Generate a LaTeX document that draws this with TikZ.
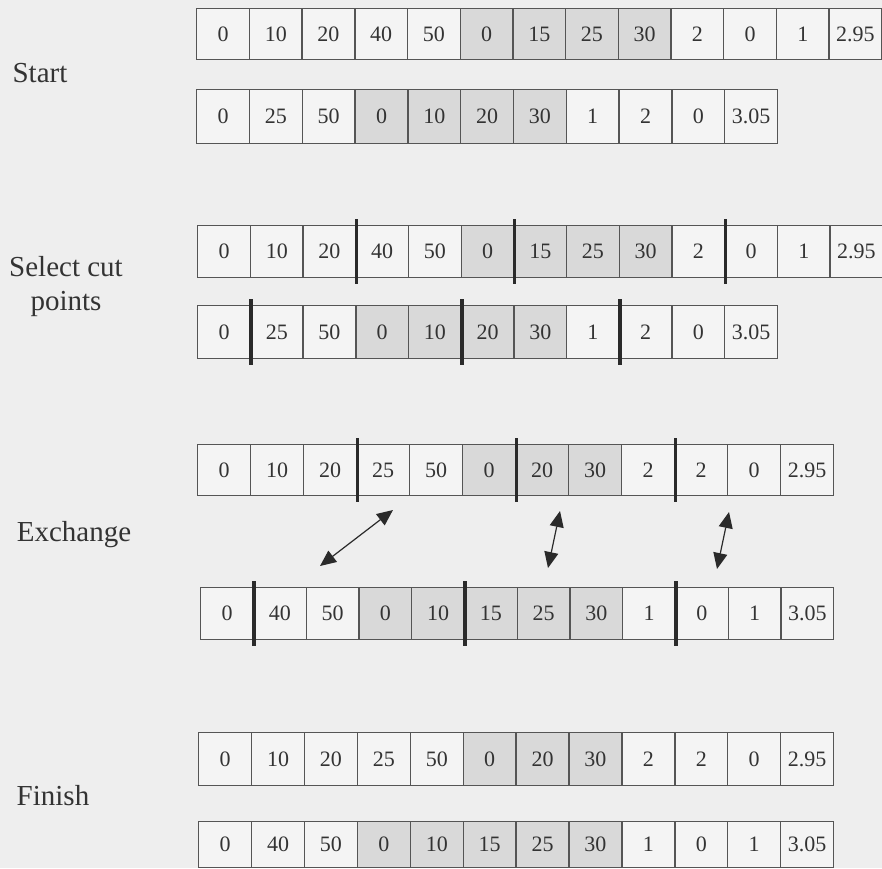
\documentclass[tikz,border=0pt]{standalone}
\usepackage{fontspec}
\setmainfont{Liberation Serif}
\usetikzlibrary{arrows.meta}
\definecolor{bgc}{HTML}{EEEEEE}
\definecolor{cw}{HTML}{F4F4F4}
\definecolor{cg}{HTML}{D9D9D9}
\definecolor{ln}{HTML}{555555}
\definecolor{tx}{HTML}{333333}
\definecolor{barc}{HTML}{2A2A2A}
\tikzset{
  cellbox/.style={draw=ln, line width=1.4pt, inner sep=0pt, anchor=north west,
    text=tx, font=\fontsize{22}{24}\selectfont},
  cutbar/.style={draw=barc, line width=3.6pt},
  steplabel/.style={text=tx, font=\fontsize{29}{34}\selectfont, align=center, inner sep=0pt},
  swap/.style={draw=barc, line width=1.2pt, {Triangle[length=16pt,width=14pt]}-{Triangle[length=16pt,width=14pt]}}
}
% #1 name, #2 x0, #3 ytop, #4 cell width, #5 cell height, #6 list value/fill
\newcommand{\cellrow}[6]{%
  \foreach \v/\s [count=\i] in {#6} {
    \node[cellbox, fill=\s, minimum width=#4pt, minimum height=#5pt]
      (#1c\i) at ({#2+(\i-1)*#4}, #3) {\v};
  }}
\newcommand{\cutat}[1]{%
  \draw[cutbar] ([yshift=6pt]#1.north east) -- ([yshift=-6pt]#1.south east);}
\begin{document}
\begin{tikzpicture}[x=1pt,y=-1pt]
\useasboundingbox (0,0) rectangle (882,868);
\fill[bgc] (0,0) rectangle (882,868);

% Start
\cellrow{ra}{196}{8}{52.7}{51}{0/cw,10/cw,20/cw,40/cw,50/cw,0/cg,15/cg,25/cg,30/cg,2/cw,0/cw,1/cw,2.95/cw}
\cellrow{rb}{196}{89}{52.8}{54}{0/cw,25/cw,50/cw,0/cg,10/cg,20/cg,30/cg,1/cw,2/cw,0/cw,3.05/cw}

% Select cut points
\cellrow{rc}{197}{225}{52.7}{52}{0/cw,10/cw,20/cw,40/cw,50/cw,0/cg,15/cg,25/cg,30/cg,2/cw,0/cw,1/cw,2.95/cw}
\cellrow{rd}{197}{305}{52.7}{53}{0/cw,25/cw,50/cw,0/cg,10/cg,20/cg,30/cg,1/cw,2/cw,0/cw,3.05/cw}
\cutat{rcc3}\cutat{rcc6}\cutat{rcc10}
\cutat{rdc1}\cutat{rdc5}\cutat{rdc8}

% Exchange
\cellrow{re}{197}{444}{53.0}{51}{0/cw,10/cw,20/cw,25/cw,50/cw,0/cg,20/cg,30/cg,2/cw,2/cw,0/cw,2.95/cw}
\cellrow{rf}{200}{587}{52.75}{52}{0/cw,40/cw,50/cw,0/cg,10/cg,15/cg,25/cg,30/cg,1/cw,0/cw,1/cw,3.05/cw}
\cutat{rec3}\cutat{rec6}\cutat{rec9}
\cutat{rfc1}\cutat{rfc5}\cutat{rfc9}

\coordinate (sa1) at (393,510);
\coordinate (sa2) at (320,566);
\coordinate (sb1) at (560,511);
\coordinate (sb2) at (548,568);
\coordinate (sc1) at (729,512);
\coordinate (sc2) at (717,569);
\draw[swap] (sa1) -- (sa2);
\draw[swap] (sb1) -- (sb2);
\draw[swap] (sc1) -- (sc2);

% Finish
\cellrow{rg}{198}{732}{52.9}{53}{0/cw,10/cw,20/cw,25/cw,50/cw,0/cg,20/cg,30/cg,2/cw,2/cw,0/cw,2.95/cw}
\cellrow{rh}{198}{821}{52.9}{46}{0/cw,40/cw,50/cw,0/cg,10/cg,15/cg,25/cg,30/cg,1/cw,0/cw,1/cw,3.05/cw}

% step labels
\node[steplabel] (lstart) at (40,73) {Start};
\node[steplabel] (lselect) at (66,287) {Select cut\\points};
\node[steplabel] (lexch) at (74,535) {Exchange};
\node[steplabel] (lfin) at (53,796) {Finish};
\end{tikzpicture}
\end{document}
